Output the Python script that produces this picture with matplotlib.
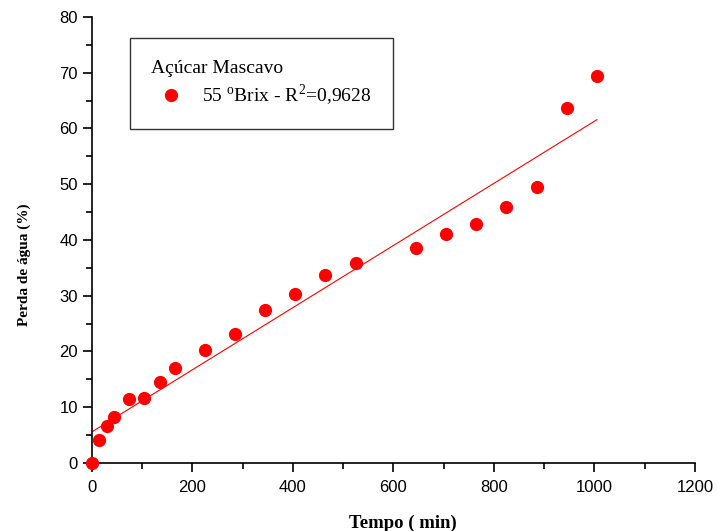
import numpy as np
import matplotlib.pyplot as plt
from matplotlib.ticker import MultipleLocator

# ------------------------------
# Dados
# ------------------------------
tempo = [0, 15, 30, 45, 75, 105, 135, 165, 225, 285, 345, 405, 465, 525,
         645, 705, 765, 825, 885, 945, 1005]
perda = [0.0, 4.1, 6.7, 8.3, 11.5, 11.7, 14.6, 17.0, 20.3, 23.2, 27.5, 30.3,
         33.8, 35.8, 38.5, 41.1, 42.8, 46.0, 49.5, 63.6, 69.4]

legend_title = "Açúcar Mascavo"
serie_label = r"55 $^{\mathrm{o}}$Brix - R$^{2}$=0,9628"

plt.rcParams['mathtext.fontset'] = 'custom'
plt.rcParams['mathtext.rm'] = 'Liberation Serif'

fig = plt.figure(figsize=(7.17, 5.31), dpi=100)
ax = fig.add_axes([0.1279, 0.1281, 0.8414, 0.840])

# ------------------------------
# Ajuste linear
# ------------------------------
coef = np.polyfit(tempo, perda, 1)
x_fit = np.array([0, max(tempo)])
ax.plot(x_fit, np.polyval(coef, x_fit), color='red', lw=0.8)

ax.plot(tempo, perda, 'o', color='red', markersize=8.5, clip_on=False,
        label=serie_label, zorder=3)

ax.set_xlim(0, 1200)
ax.set_ylim(0, 80)
ax.xaxis.set_major_locator(MultipleLocator(200))
ax.xaxis.set_minor_locator(MultipleLocator(100))
ax.yaxis.set_major_locator(MultipleLocator(10))
ax.yaxis.set_minor_locator(MultipleLocator(5))

for s in ['top', 'right']:
    ax.spines[s].set_visible(False)
ax.spines['left'].set_linewidth(1.2)
ax.spines['bottom'].set_linewidth(1.2)
ax.tick_params(which='major', direction='out', length=6.5, width=1.2)
ax.tick_params(which='minor', direction='out', length=4, width=1.2)
for lab in ax.get_xticklabels() + ax.get_yticklabels():
    lab.set_fontfamily('Liberation Sans')
    lab.set_fontsize(12)
ax.tick_params(axis='x', pad=6)

ax.set_xlabel("Tempo ( min)", fontfamily='Liberation Serif', fontweight='bold',
              fontsize=13.5)
ax.xaxis.set_label_coords(0.516, -0.117)
ax.set_ylabel("Perda de água (%)", fontfamily='Liberation Serif', fontweight='bold',
              fontsize=11)
ax.yaxis.set_label_coords(-0.10, 0.444)

leg = ax.legend(loc='upper left', bbox_to_anchor=(0.0635, 0.952),
                title=legend_title, alignment='left', frameon=True,
                fancybox=False, edgecolor='black', borderpad=1.1,
                handletextpad=0.6, borderaxespad=0, labelspacing=0.3,
                prop={'family': 'Liberation Serif', 'size': 14},
                title_fontproperties={'family': 'Liberation Serif', 'size': 14})
leg.get_frame().set_linewidth(1.0)

plt.savefig('out.png', dpi=100)
